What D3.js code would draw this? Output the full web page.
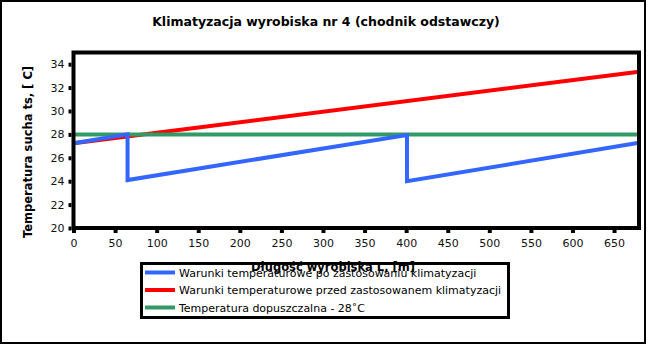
<!DOCTYPE html>
<html><head><meta charset="utf-8">
<script src="https://cdn.jsdelivr.net/npm/d3@7"></script>
<style>body{margin:0;background:#fff}svg{display:block}text{font-family:"DejaVu Sans",sans-serif}</style>
</head><body>
<svg id="c" width="651" height="345"></svg>
<script>
const title = "Klimatyzacja wyrobiska nr 4 (chodnik odstawczy)";
const xTitle = "Długość wyrobiska L, [m]";
const yTitle = "Temperatura sucha ts, [ C]";
const xTicks = [0,50,100,150,200,250,300,350,400,450,500,550,600,650];
const yTicks = [20,22,24,26,28,30,32,34];
const blueX = [0, 65, 65, 401, 401, 680];
const blueY = [27.25, 28.0, 24.1, 27.95, 24.0, 27.28];
const redX = [0, 680];
const redY = [27.25, 33.35];
const greenX = [0, 680];
const greenY = [28, 28];
const seriesNames = ["Warunki temperaturowe po zastosowaniu klimatyzacji","Warunki temperaturowe przed zastosowanem klimatyzacji","Temperatura dopuszczalna - 28˚C"];
const colors = ["#3366ff","#ff0000","#339966"];

const svg = d3.select("#c");
svg.append("rect").attr("x",1).attr("y",1).attr("width",644).attr("height",342).attr("fill","#fff").attr("stroke","#000").attr("stroke-width",2);
const L=73.5,R=639,T=52.5,B=228;
const x = d3.scaleLinear().domain([0,680]).range([L,R]);
const y = d3.scaleLinear().domain([20,35]).range([B,T]);

svg.append("text").attr("x",326).attr("y",26).attr("text-anchor","middle").attr("font-weight","bold").attr("font-size",12.5).text(title);

const line = d3.line().x(d=>x(d[0])).y(d=>y(d[1]));
const series = [d3.zip(blueX,blueY), d3.zip(redX,redY), d3.zip(greenX,greenY)];
// draw order: red, green, blue? blue over green at start
[1,2,0].forEach(i=>{
  svg.append("path").attr("d",line(series[i])).attr("fill","none").attr("stroke",colors[i]).attr("stroke-width",4).attr("stroke-linejoin","miter");
});

// frame
svg.append("rect").attr("x",L).attr("y",T).attr("width",R-L).attr("height",B-T).attr("fill","none").attr("stroke","#000").attr("stroke-width",4);

const xa = svg.append("g").attr("transform",`translate(0,${B+2})`).call(d3.axisBottom(x).tickValues(xTicks).tickSize(3).tickPadding(6).tickFormat(d3.format("d")));
const ya = svg.append("g").attr("transform",`translate(${L-2},0)`).call(d3.axisLeft(y).tickValues(yTicks).tickSize(3).tickPadding(4).tickFormat(d3.format("d")));
[xa,ya].forEach(a=>{
  a.select(".domain").remove();
  a.selectAll(".tick line").attr("stroke","#000").attr("stroke-width",4);
  a.selectAll(".tick text").attr("font-size",11).attr("fill","#111").attr("font-family","DejaVu Sans");
});

svg.append("text").attr("transform","translate(32,152) rotate(-90)").attr("text-anchor","middle").attr("font-weight","bold").attr("font-size",11.5).text(yTitle);

// legend
const lg = svg.append("g");
lg.append("rect").attr("x",141.5).attr("y",263.5).attr("width",367).attr("height",54).attr("fill","#fff").attr("stroke","#000").attr("stroke-width",3);
const ly = [272.5,290,307.5];
seriesNames.forEach((n,i)=>{
  lg.append("line").attr("x1",145).attr("x2",175).attr("y1",ly[i]).attr("y2",ly[i]).attr("stroke",colors[i]).attr("stroke-width",4);
  lg.append("text").attr("x",179).attr("y",ly[i]+4).attr("font-size",11).text(n);
});
svg.append("text").attr("x",333).attr("y",271).attr("text-anchor","middle").attr("font-weight","bold").attr("font-size",11.5).text(xTitle);
</script>
</body></html>
